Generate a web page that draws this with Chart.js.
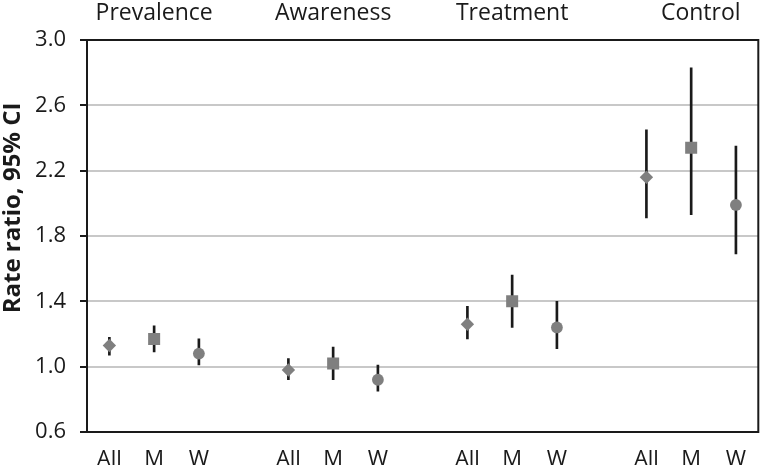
<!DOCTYPE html>
<html>
<head>
<meta charset="utf-8">
<script src="https://cdn.jsdelivr.net/npm/chart.js@4/dist/chart.umd.min.js"></script>
<style>
  html, body { margin: 0; padding: 0; background: #ffffff; }
  #wrap { width: 765px; height: 465px; position: relative; }
</style>
</head>
<body>
<div id="wrap"><canvas id="c"></canvas></div>
<script>
// ---- data ----
const groups = ['Prevalence', 'Awareness', 'Treatment', 'Control'];
const subgroups = ['All', 'M', 'W'];
const estimates = [1.13, 1.17, 1.08, 0.98, 1.02, 0.92, 1.26, 1.40, 1.24, 2.16, 2.34, 1.99];
const lower     = [1.07, 1.09, 1.01, 0.92, 0.92, 0.85, 1.17, 1.24, 1.11, 1.91, 1.93, 1.69];
const upper     = [1.18, 1.25, 1.17, 1.05, 1.12, 1.01, 1.37, 1.56, 1.40, 2.45, 2.83, 2.35];
const yTicks = [0.6, 1.0, 1.4, 1.8, 2.2, 2.6, 3.0];
const yTitle = 'Rate ratio, 95% CI';

// ---- build category slots (3 subgroups + a gap per group) ----
const labels = [];
const groupLabels = [];
const pointData = [];
const barData = [];
const styleOf = [];
groups.forEach((g, gi) => {
  subgroups.forEach((s, si) => {
    const k = gi * subgroups.length + si;
    labels.push(s);
    groupLabels.push(si === 1 ? (g === 'Control' ? '\u2007 ' + g : g) : '');
    pointData.push(estimates[k]);
    barData.push([lower[k], upper[k]]);
    styleOf.push(si);
  });
  if (gi < groups.length - 1) {
    labels.push('');
    groupLabels.push('');
    pointData.push(null);
    barData.push(null);
    styleOf.push(-1);
  }
});

const pStyles = ['rectRot', 'rect', 'circle'];
const pRadius = [6.7, 8.5, 5.9];
const INK = '#1a1a1a';
const FONT = "'Open Sans', sans-serif";

const framePlugin = {
  id: 'frame',
  beforeDatasetsDraw(chart) {
    const a = chart.chartArea, ctx = chart.ctx;
    ctx.save();
    ctx.strokeStyle = INK;
    ctx.lineWidth = 2;
    ctx.strokeRect(a.left, a.top, a.right - a.left, a.bottom - a.top);
    ctx.restore();
  }
};

new Chart(document.getElementById('c'), {
  data: {
    labels: labels,
    datasets: [
      {
        type: 'line',
        data: pointData,
        showLine: false,
        order: 0,
        pointStyle: ctx => pStyles[styleOf[ctx.dataIndex]] || 'circle',
        pointRadius: ctx => pRadius[styleOf[ctx.dataIndex]] || 0,
        pointHoverRadius: ctx => pRadius[styleOf[ctx.dataIndex]] || 0,
        pointBackgroundColor: '#7f7f7f',
        pointBorderColor: '#7f7f7f',
        pointBorderWidth: 0
      },
      {
        type: 'bar',
        data: barData,
        order: 1,
        backgroundColor: INK,
        borderWidth: 0,
        barThickness: 2
      }
    ]
  },
  plugins: [framePlugin],
  options: {
    responsive: true,
    maintainAspectRatio: false,
    animation: false,
    layout: { padding: { left: 0, right: 1, top: 0, bottom: 0 } },
    plugins: { legend: { display: false }, tooltip: { enabled: false } },
    scales: {
      x: {
        type: 'category',
        position: 'bottom',
        offset: true,
        afterFit: axis => { axis.height = 33; },
        grid: { display: false, drawTicks: false },
        border: { display: false },
        ticks: { color: INK, font: { family: FONT, size: 22 }, padding: 15, maxRotation: 0, autoSkip: false }
      },
      top: {
        type: 'category',
        position: 'top',
        labels: groupLabels,
        offset: true,
        afterFit: axis => { axis.height = 40; },
        grid: { display: false, drawTicks: false },
        border: { display: false },
        ticks: { color: INK, font: { family: FONT, size: 23 }, padding: 13, maxRotation: 0, autoSkip: false }
      },
      y: {
        type: 'linear',
        min: 0.6,
        max: 3.0,
        afterFit: axis => { axis.width = 87; },
        afterBuildTicks: axis => { axis.ticks = yTicks.map(v => ({ value: v })); },
        grid: {
          color: ctx => (ctx.tick && (Math.abs(ctx.tick.value - 0.6) < 1e-6 || Math.abs(ctx.tick.value - 3.0) < 1e-6)) ? 'rgba(0,0,0,0)' : '#c8c8c8',
          lineWidth: 2,
          tickColor: INK,
          tickWidth: 2,
          tickLength: 7
        },
        border: { display: false },
        ticks: { color: INK, font: { family: FONT, size: 22 }, padding: 14, callback: v => Number(v).toFixed(1) },
        title: { display: true, text: '         ' + yTitle, color: INK, font: { family: FONT, size: 24, weight: 'bold' }, padding: { top: -1, bottom: 0 } }
      }
    }
  }
});
</script>
</body>
</html>
